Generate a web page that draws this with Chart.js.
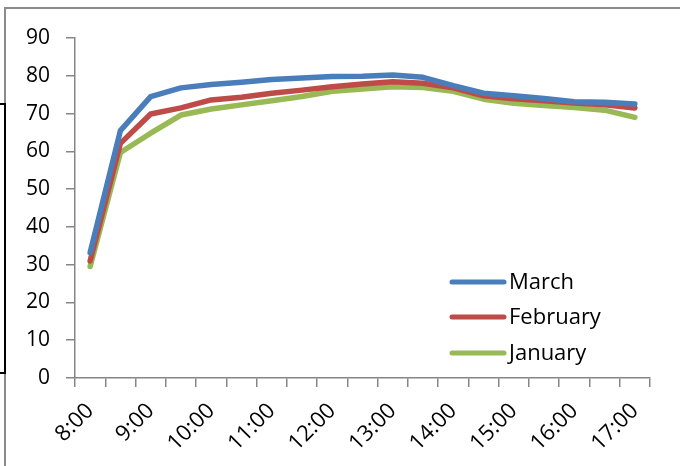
<!DOCTYPE html>
<html>
<head>
<meta charset="utf-8">
<script src="https://cdn.jsdelivr.net/npm/chart.js@4.4.0/dist/chart.umd.min.js"></script>
<style>
  html, body { margin: 0; padding: 0; background: #fff; }
  #wrap { position: relative; width: 680px; height: 466px; overflow: hidden; }
  #chart { position: absolute; left: 0; top: 0; }
  .frame-top { position: absolute; left: 5px; top: 7px; width: 675px; height: 2px; background: #8a8a8a; }
  .frame-left { position: absolute; left: 4px; top: 7px; width: 2px; height: 459px; background: #8a8a8a; }
  .bracket { position: absolute; left: -2px; top: 103px; width: 6px; height: 267px; border: 2px solid #000; border-left: none; }
</style>
</head>
<body>
<div id="wrap">
  <div class="frame-top"></div>
  <div class="frame-left"></div>
  <div class="bracket"></div>
  <canvas id="chart" width="680" height="466"></canvas>
</div>
<script>
// half-hour readings, hour labels only shown on axis
const times = ['8:00','8:30','9:00','9:30','10:00','10:30','11:00','11:30','12:00','12:30',
  '13:00','13:30','14:00','14:30','15:00','15:30','16:00','16:30','17:00'];
const march = [33.2,65.5,74.5,76.8,77.7,78.3,79.0,79.4,79.8,79.9,80.2,79.6,77.4,75.4,74.7,74.0,73.1,73.0,72.5];
const february = [31.0,62.1,69.9,71.5,73.6,74.3,75.4,76.2,77.1,77.8,78.4,78.0,76.8,74.7,73.9,73.4,72.8,72.3,71.5];
const january = [29.5,59.7,64.8,69.6,71.2,72.3,73.4,74.5,75.9,76.5,77.1,76.9,75.9,73.8,72.7,72.1,71.6,70.9,69.0];
const yTicks = [0,10,20,30,40,50,60,70,80,90];

const FONT = "'Open Sans', sans-serif";
const axisGray = '#868686';

// legend drawn inside the plot, lower right
const insideLegend = {
  id: 'insideLegend',
  afterDraw(chart) {
    const ctx = chart.ctx;
    const rows = [282, 317, 353];
    ctx.save();
    ctx.font = "22px " + FONT;
    ctx.textBaseline = 'middle';
    ctx.textAlign = 'left';
    chart.data.datasets.forEach((ds, i) => {
      ctx.strokeStyle = ds.borderColor;
      ctx.lineWidth = 5;
      ctx.lineCap = 'round';
      ctx.beginPath();
      ctx.moveTo(452, rows[i]);
      ctx.lineTo(504, rows[i]);
      ctx.stroke();
      ctx.fillStyle = '#000';
      ctx.fillText(ds.label, 509, rows[i] + 1);
    });
    ctx.restore();
  }
};

new Chart(document.getElementById('chart'), {
  type: 'line',
  data: {
    labels: times,
    datasets: [
      { label: 'March', data: march, borderColor: '#4A7EBB' },
      { label: 'February', data: february, borderColor: '#BE4B48' },
      { label: 'January', data: january, borderColor: '#98B954' }
    ]
  },
  options: {
    responsive: false,
    animation: false,
    layout: { padding: { top: 38, right: 30, bottom: 0, left: 0 } },
    elements: {
      line: { borderWidth: 5.5, tension: 0, borderCapStyle: 'round', borderJoinStyle: 'round' },
      point: { radius: 0 }
    },
    plugins: { legend: { display: false }, tooltip: { enabled: false } },
    scales: {
      x: {
        offset: true,
        grid: { offset: true, drawOnChartArea: false, color: axisGray, lineWidth: 1.5, tickLength: 9 },
        border: { color: axisGray, width: 1.5 },
        ticks: {
          autoSkip: false, minRotation: 45, maxRotation: 45, padding: 11,
          color: '#000', font: { family: FONT, size: 22 },
          callback: (v, i) => i % 2 === 0 ? times[i] : ''
        },
        afterFit(s) { s.height = 88; s.paddingLeft = 0; s.paddingRight = 0; }
      },
      y: {
        min: 0, max: 90,
        afterBuildTicks(s) { s.ticks = yTicks.map(v => ({ value: v })); },
        grid: { drawOnChartArea: false, color: axisGray, lineWidth: 1.5, tickLength: 9 },
        border: { color: axisGray, width: 1.5 },
        ticks: { padding: 16, color: '#000', font: { family: FONT, size: 21 } },
        afterFit(s) { s.width = 75; s.paddingTop = 0; s.paddingBottom = 0; }
      }
    }
  },
  plugins: [insideLegend]
});
</script>
</body>
</html>
